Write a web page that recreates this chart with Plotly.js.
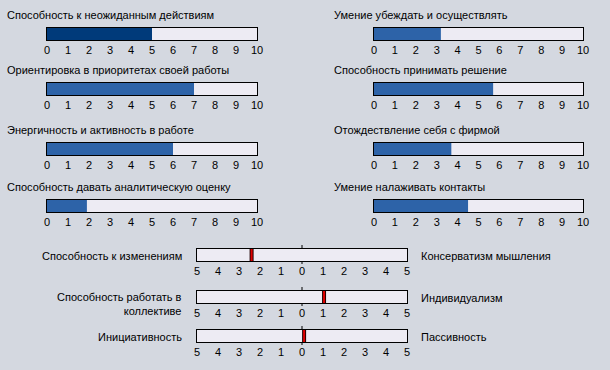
<!DOCTYPE html>
<html>
<head>
<meta charset="utf-8">
<script src="https://cdn.plot.ly/plotly-3.0.1.min.js"></script>
<style>html,body{margin:0;padding:0;background:#d4d8e0;}#chart{width:610px;height:370px;}</style>
</head>
<body>
<div id="chart"></div>
<script>
// ---- data ----
const leftLabels = [
  "Способность к неожиданным действиям",
  "Ориентировка в приоритетах своей работы",
  "Энергичность и активность в работе",
  "Способность давать аналитическую оценку"
];
const leftValues = [5, 7, 6, 1.9];
const rightLabels = [
  "Умение убеждать и осуществлять",
  "Способность принимать решение",
  "Отождествление себя с фирмой",
  "Умение налаживать контакты"
];
const rightValues = [3.2, 5.7, 3.7, 4.5];
const scaleTicks = [0, 1, 2, 3, 4, 5, 6, 7, 8, 9, 10];

const bipolarLeft = ["Способность к изменениям", "Способность работать в<br>коллективе", "Инициативность"];
const bipolarRight = ["Консерватизм мышления", "Индивидуализм", "Пассивность"];
const bipolarValues = [-2.4, 1.05, 0.1];
const bipolarTickVals = [-5, -4, -3, -2, -1, 0, 1, 2, 3, 4, 5];
const bipolarTickText = ["5", "4", "3", "2", "1", "0", "1", "2", "3", "4", "5"];

// ---- layout helpers ----
const W = 610, H = 370;
const FONT = "Liberation Sans, Arial, sans-serif";
const px = x => x / W;
const py = y => 1 - y / H;

const rowsTop = [28, 83, 143, 200];
const barH = 12;
const colX = [[47, 257], [374, 583]];
const titleX = [5, 332];
const fillColors = [["#003a7a", "#2d63a8", "#2d63a8", "#2d63a8"], ["#2d63a8", "#2d63a8", "#2d63a8", "#2d63a8"]];

const bipRowsTop = [249, 291, 330];
const bipX = [197, 407];

const layout = {
  width: W, height: H,
  margin: {l: 0, r: 0, t: 0, b: 0},
  paper_bgcolor: "#d4d8e0",
  plot_bgcolor: "#edebf3",
  showlegend: false,
  font: {family: FONT, size: 11, color: "#000"},
  annotations: [],
  shapes: []
};
const traces = [];
let n = 0;

function addAxes(xd, yd, range, tickvals, ticktext) {
  n += 1;
  const xa = n === 1 ? "xaxis" : "xaxis" + n;
  const ya = n === 1 ? "yaxis" : "yaxis" + n;
  const xid = n === 1 ? "x" : "x" + n;
  const yid = n === 1 ? "y" : "y" + n;
  layout[xa] = {
    domain: xd, range: range, anchor: yid, fixedrange: true,
    showgrid: false, zeroline: false, showline: true, mirror: true,
    linecolor: "#000", linewidth: 1, ticks: "",
    tickmode: "array", tickvals: tickvals, ticktext: ticktext,
    tickfont: {family: FONT, size: 11, color: "#000"}
  };
  layout[ya] = {
    domain: yd, range: [-0.5, 0.5], anchor: xid, fixedrange: true,
    showgrid: false, zeroline: false, showline: true, mirror: true,
    linecolor: "#000", linewidth: 1, showticklabels: false, ticks: ""
  };
  return [xid, yid];
}

// progress bars
[[leftLabels, leftValues], [rightLabels, rightValues]].forEach(([labels, values], c) => {
  labels.forEach((lab, i) => {
    const top = rowsTop[i];
    const [xid, yid] = addAxes([px(colX[c][0]), px(colX[c][1])], [py(top + barH), py(top)], [0, 10], scaleTicks, scaleTicks.map(String));
    traces.push({
      type: "bar", orientation: "h", x: [values[i]], y: [0], width: 1,
      xaxis: xid, yaxis: yid, hoverinfo: "skip",
      marker: {color: fillColors[c][i], line: {width: 0}}
    });
    layout.annotations.push({
      xref: "paper", yref: "paper", x: px(titleX[c]), y: py(top - 13),
      xanchor: "left", yanchor: "middle", showarrow: false, text: lab,
      font: {family: FONT, size: 11, color: "#000"}
    });
  });
});

// bipolar bars
bipolarValues.forEach((v, i) => {
  const top = bipRowsTop[i];
  const [xid, yid] = addAxes([px(bipX[0]), px(bipX[1])], [py(top + barH), py(top)], [-5, 5], bipolarTickVals, bipolarTickText);
  traces.push({
    type: "scatter", mode: "markers", x: [v], y: [0], xaxis: xid, yaxis: yid, hoverinfo: "skip",
    marker: {symbol: "line-ns", size: 11, line: {width: 4, color: "#200000"}}
  });
  traces.push({
    type: "scatter", mode: "markers", x: [v], y: [0], xaxis: xid, yaxis: yid, hoverinfo: "skip",
    marker: {symbol: "line-ns", size: 11, line: {width: 2, color: "#e00000"}}
  });
  // small zero tick marks above and below the bar
  layout.shapes.push({type: "line", xref: xid, yref: "paper", x0: 0, x1: 0, y0: py(top), y1: py(top - 4), line: {color: "#000", width: 1}});
  layout.shapes.push({type: "line", xref: xid, yref: "paper", x0: 0, x1: 0, y0: py(top + barH), y1: py(top + barH + 3), line: {color: "#000", width: 1}});
  layout.annotations.push({
    xref: "paper", yref: "paper", x: px(184), y: py(top + (i === 1 ? 13 : 7)),
    xanchor: "right", yanchor: "middle", align: "right", showarrow: false, text: bipolarLeft[i],
    font: {family: FONT, size: 11, color: "#000"}
  });
  layout.annotations.push({
    xref: "paper", yref: "paper", x: px(419), y: py(top + 7),
    xanchor: "left", yanchor: "middle", showarrow: false, text: bipolarRight[i],
    font: {family: FONT, size: 11, color: "#000"}
  });
});

Plotly.newPlot("chart", traces, layout, {displayModeBar: false, staticPlot: true});
</script>
</body>
</html>
